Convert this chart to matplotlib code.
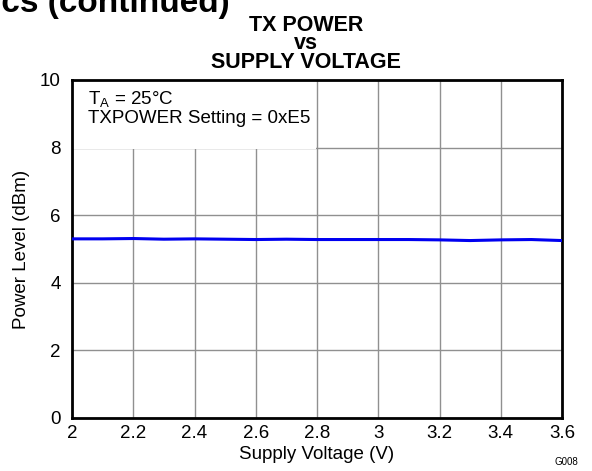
import matplotlib.pyplot as plt
import matplotlib.patches as mpatches

plt.rcParams['font.family'] = ['Liberation Sans', 'DejaVu Sans']

voltage = [2.0, 2.1, 2.2, 2.3, 2.4, 2.5, 2.6, 2.7, 2.8, 2.9, 3.0, 3.1, 3.2, 3.3, 3.4, 3.5, 3.6]
power = [5.30, 5.30, 5.31, 5.29, 5.30, 5.29, 5.28, 5.29, 5.28, 5.28, 5.28, 5.28, 5.27, 5.25, 5.27, 5.28, 5.25]

xticks = [2, 2.2, 2.4, 2.6, 2.8, 3, 3.2, 3.4, 3.6]
xticklabels = ['2', '2.2', '2.4', '2.6', '2.8', '3', '3.2', '3.4', '3.6']
yticks = [0, 2, 4, 6, 8, 10]

fig = plt.figure(figsize=(5.92, 4.71), dpi=100)
ax = fig.add_axes([72 / 592, 1 - 418 / 471, 490 / 592, 338 / 471])

ax.set_xlim(2, 3.6)
ax.set_ylim(0, 10)
ax.set_xticks(xticks)
ax.set_xticklabels(xticklabels)
ax.set_yticks(yticks)
ax.grid(True, color='#909090', linewidth=1.0)
ax.set_axisbelow(True)
ax.tick_params(length=0, labelsize=13.5)
ax.tick_params(axis='x', pad=5)
ax.tick_params(axis='y', pad=8)
for s in ax.spines.values():
    s.set_linewidth(2)
    s.set_color('black')

# white box behind the note hides the grid
ax.add_patch(mpatches.Rectangle((2, 7.95), 0.796, 2.05, facecolor='white', edgecolor='none', zorder=1.5))

ax.plot(voltage, power, color='#0000f0', linewidth=2.2, zorder=3)

ax.text(2.052, 9.72, 'T$_\\mathregular{A}$ = 25°C\nTXPOWER Setting = 0xE5', fontsize=13.5,
        va='top', ha='left', linespacing=1.05, zorder=4)

ax.set_xlabel('Supply Voltage (V)', fontsize=13.5, labelpad=3)
ax.set_ylabel('Power Level (dBm)', fontsize=13.5, labelpad=7)
ax.set_title('TX POWER\nvs\nSUPPLY VOLTAGE', fontsize=15.5, fontweight='bold', linespacing=0.82,
             x=0.478, pad=9)

fig.text(230 / 592, 1 - 12 / 471, 'Typical Characteristics (continued)', fontsize=24, fontweight='bold',
         ha='right', va='baseline')
fig.text(578 / 592, 1 - 462 / 471, 'G008', fontsize=7, ha='right', va='center')

fig.savefig('out.png', dpi=100)
